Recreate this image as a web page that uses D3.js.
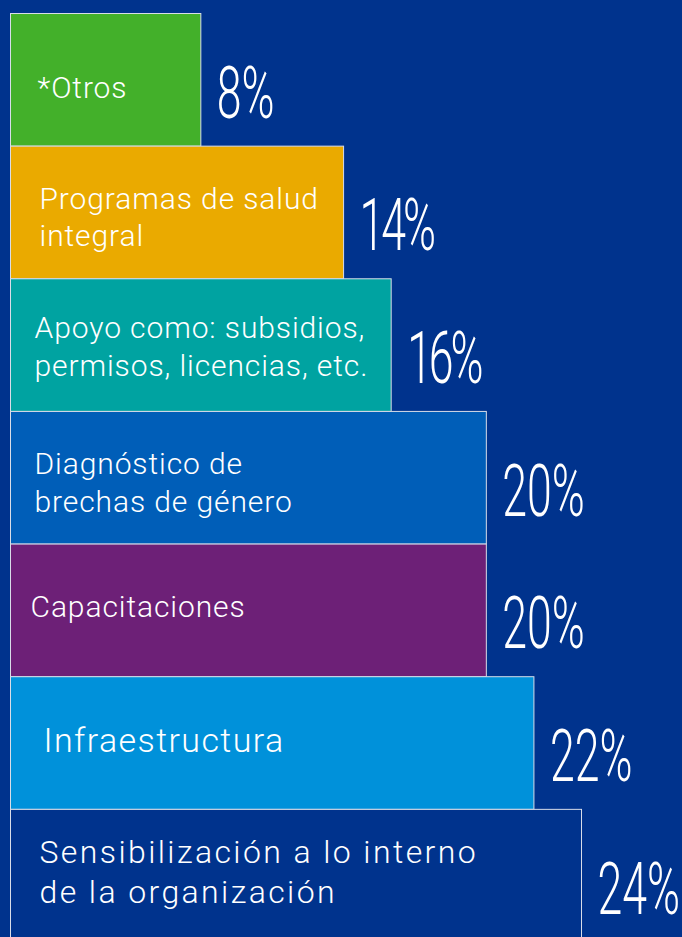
<!DOCTYPE html>
<html>
<head>
  <meta charset="utf-8">
  <style>
    body { margin: 0; padding: 0; background: #00338D; }
    .bar { stroke: #d8dde8; stroke-width: 1; }
    .label { fill: white; font-family: Roboto, "Liberation Sans", sans-serif; font-weight: 300; font-size: 30px; letter-spacing: 0.9px; }
    .pct { fill: white; font-family: Roboto, "Liberation Sans", sans-serif; font-weight: 300; font-size: 72px; }
  </style>
</head>
<body>
  <div id="chart"></div>
  <script src="https://d3js.org/d3.v7.min.js"></script>
  <script>
    // categories, top to bottom ("\n" = line break in the label)
    var categories = [
      "*Otros",
      "Programas de salud\nintegral",
      "Apoyo como: subsidios,\npermisos, licencias, etc.",
      "Diagnóstico de\nbrechas de género",
      "Capacitaciones",
      "Infraestructura",
      "Sensibilización a lo interno\nde la organización"
    ]
    var values = [8, 14, 16, 20, 20, 22, 24]
    var colors = ["#43B02A", "#EAAA00", "#00A3A1", "#005EB8", "#6D2077", "#0091DA", "#00338D"]

    // small per-row label tweaks (the original layout is hand placed)
    var labelNudge = [[0, 6], [2, 3], [-3, 0], [-3, 3], [-7, -5], [6, -3], [2, -5]]
    var labelSize = [30, 30, 30, 30, 30, 34, 32]
    var labelSpacing = [0.9, 0.9, 0.9, 0.9, 0.9, 1.4, 2.4]

    var width = 682,
        height = 937

    var svg = d3.select("#chart")
      .append("svg")
      .attr("width", width)
      .attr("height", height)
      .style("display", "block")

    svg.append("rect")
      .attr("width", width)
      .attr("height", height)
      .attr("fill", "#00338D")

    var x = d3.scaleLinear().domain([0, 24]).range([10.5, 581.5])

    var y = d3.scaleBand()
      .domain(categories)
      .range([13.5, 942])
      .padding(0)

    var rows = svg.append("g")
      .selectAll("g")
      .data(categories)
      .enter().append("g")

    rows.append("rect")
      .attr("class", "bar")
      .attr("x", x(0))
      .attr("y", function (d) { return y(d) })
      .attr("width", function (d, i) { return x(values[i]) - x(0) })
      .attr("height", y.bandwidth())
      .attr("fill", function (d, i) { return colors[i] })

    // category labels
    rows.append("text")
      .attr("class", "label")
      .style("font-size", function (d, i) { return labelSize[i] + "px" })
      .style("letter-spacing", function (d, i) { return labelSpacing[i] + "px" })
      .each(function (d, i) {
        var lines = d.split("\n")
        var lh = labelSize[i] * 1.25
        var cy = y(d) + y.bandwidth() / 2
        var first = cy + 12 - (lines.length - 1) * lh / 2 + labelNudge[i][1]
        d3.select(this).selectAll("tspan")
          .data(lines)
          .enter().append("tspan")
          .attr("x", x(0) + 27 + labelNudge[i][0])
          .attr("y", function (l, j) { return first + j * lh })
          .text(function (l) { return l })
      })

    // percentage labels, condensed; the "1" is narrower in the original face
    rows.append("text")
      .attr("class", "pct")
      .attr("transform", function (d, i) {
        var px = x(values[i]) + 16
        var py = y(d) + y.bandwidth() / 2 + 38
        return "translate(" + px + "," + py + ") scale(0.62,1)"
      })
      .style("letter-spacing", function (d, i) { return String(values[i]).charAt(0) === "1" ? "-5px" : null })
      .text(function (d, i) { return values[i] + "%" })
  </script>
</body>
</html>
